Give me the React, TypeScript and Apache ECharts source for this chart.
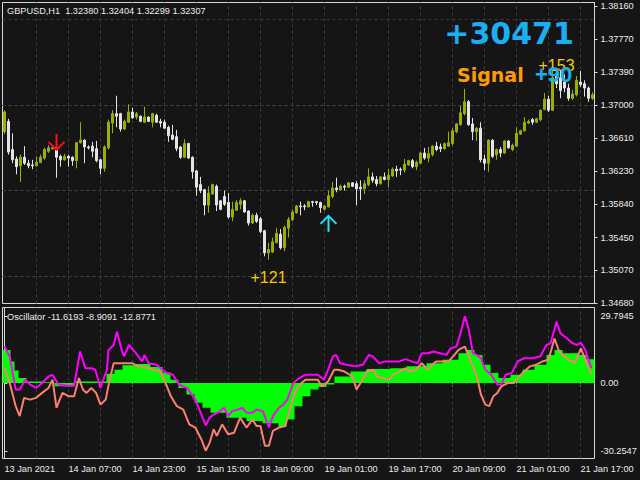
import React, { useEffect, useRef } from 'react';
import * as echarts from 'echarts';

// ---------- price pane (H1 candles, bar 0 .. 147) ----------
const opens = [
  1.3669, 1.3681, 1.3648, 1.3637, 1.3629, 1.3639, 1.3632, 1.3630, 1.3629, 1.3633,
  1.3638, 1.3646, 1.3649, 1.3650, 1.3640, 1.3636, 1.3640, 1.3639, 1.3635, 1.3656,
  1.3659, 1.3651, 1.3652, 1.3649, 1.3636, 1.3626, 1.3650, 1.3679, 1.3690, 1.3690,
  1.3672, 1.3680, 1.3692, 1.3686, 1.3687, 1.3680, 1.3686, 1.3680, 1.3688, 1.3681,
  1.3680, 1.3674, 1.3665, 1.3663, 1.3651, 1.3639, 1.3655, 1.3639, 1.3623, 1.3607,
  1.3601, 1.3583, 1.3596, 1.3605, 1.3588, 1.3593, 1.3586, 1.3569, 1.3577, 1.3584,
  1.3588, 1.3576, 1.3562, 1.3571, 1.3567, 1.3553, 1.3527, 1.3528, 1.3539, 1.3549,
  1.3533, 1.3556, 1.3566, 1.3574, 1.3582, 1.3582, 1.3581, 1.3587, 1.3587, 1.3586,
  1.3578, 1.3581, 1.3593, 1.3603, 1.3601, 1.3605, 1.3604, 1.3609, 1.3608, 1.3604,
  1.3602, 1.3607, 1.3616, 1.3613, 1.3608, 1.3616, 1.3613, 1.3617, 1.3625, 1.3625,
  1.3624, 1.3630, 1.3635, 1.3628, 1.3632, 1.3644, 1.3638, 1.3642, 1.3652, 1.3651,
  1.3649, 1.3652, 1.3655, 1.3669, 1.3677, 1.3690, 1.3704, 1.3678, 1.3669, 1.3673,
  1.3637, 1.3632, 1.3659, 1.3642, 1.3648, 1.3644, 1.3658, 1.3648, 1.3652, 1.3666,
  1.3670, 1.3679, 1.3683, 1.3680, 1.3683, 1.3695, 1.3707, 1.3694, 1.3734, 1.3732,
  1.3727, 1.3720, 1.3708, 1.3712, 1.3727, 1.3725, 1.3720, 1.3708,
];
const closes = [
  1.3692, 1.3645, 1.3636, 1.3628, 1.3639, 1.3632, 1.3629, 1.3629, 1.3633, 1.3639,
  1.3648, 1.3650, 1.3650, 1.3639, 1.3636, 1.3640, 1.3638, 1.3635, 1.3656, 1.3659,
  1.3651, 1.3650, 1.3646, 1.3635, 1.3626, 1.3651, 1.3680, 1.3690, 1.3687, 1.3672,
  1.3681, 1.3692, 1.3685, 1.3690, 1.3681, 1.3686, 1.3681, 1.3690, 1.3680, 1.3679,
  1.3673, 1.3664, 1.3660, 1.3649, 1.3639, 1.3655, 1.3638, 1.3622, 1.3604, 1.3600,
  1.3583, 1.3597, 1.3607, 1.3583, 1.3578, 1.3584, 1.3569, 1.3578, 1.3586, 1.3588,
  1.3575, 1.3562, 1.3571, 1.3564, 1.3552, 1.3527, 1.3531, 1.3540, 1.3550, 1.3533,
  1.3557, 1.3566, 1.3575, 1.3582, 1.3581, 1.3581, 1.3587, 1.3586, 1.3586, 1.3580,
  1.3582, 1.3594, 1.3603, 1.3601, 1.3605, 1.3604, 1.3609, 1.3605, 1.3602, 1.3602,
  1.3608, 1.3616, 1.3612, 1.3608, 1.3616, 1.3613, 1.3618, 1.3625, 1.3623, 1.3624,
  1.3631, 1.3635, 1.3628, 1.3633, 1.3644, 1.3638, 1.3643, 1.3652, 1.3648, 1.3649,
  1.3655, 1.3656, 1.3670, 1.3678, 1.3691, 1.3704, 1.3677, 1.3669, 1.3673, 1.3636,
  1.3632, 1.3659, 1.3640, 1.3648, 1.3644, 1.3658, 1.3650, 1.3653, 1.3667, 1.3670,
  1.3680, 1.3681, 1.3680, 1.3684, 1.3694, 1.3707, 1.3694, 1.3732, 1.3725, 1.3717,
  1.3720, 1.3708, 1.3713, 1.3729, 1.3724, 1.3720, 1.3708, 1.3712,
];
const highs = [
  1.3694, 1.3684, 1.3667, 1.3640, 1.3642, 1.3652, 1.3636, 1.3636, 1.3640, 1.3642,
  1.3650, 1.3653, 1.3652, 1.3652, 1.3642, 1.3643, 1.3642, 1.3640, 1.3657, 1.3680,
  1.3660, 1.3653, 1.3657, 1.3658, 1.3637, 1.3653, 1.3683, 1.3694, 1.3711, 1.3691,
  1.3683, 1.3701, 1.3697, 1.3692, 1.3688, 1.3698, 1.3687, 1.3691, 1.3690, 1.3684,
  1.3683, 1.3676, 1.3677, 1.3671, 1.3652, 1.3660, 1.3656, 1.3640, 1.3624, 1.3616,
  1.3602, 1.3605, 1.3608, 1.3607, 1.3589, 1.3600, 1.3597, 1.3587, 1.3589, 1.3591,
  1.3589, 1.3577, 1.3573, 1.3574, 1.3569, 1.3554, 1.3539, 1.3545, 1.3556, 1.3555,
  1.3559, 1.3569, 1.3578, 1.3583, 1.3587, 1.3584, 1.3588, 1.3588, 1.3588, 1.3587,
  1.3583, 1.3600, 1.3610, 1.3615, 1.3607, 1.3607, 1.3610, 1.3610, 1.3611, 1.3612,
  1.3612, 1.3626, 1.3621, 1.3617, 1.3617, 1.3621, 1.3625, 1.3627, 1.3629, 1.3627,
  1.3637, 1.3636, 1.3637, 1.3635, 1.3645, 1.3650, 1.3651, 1.3653, 1.3657, 1.3655,
  1.3656, 1.3669, 1.3673, 1.3679, 1.3699, 1.3719, 1.3706, 1.3685, 1.3674, 1.3680,
  1.3642, 1.3660, 1.3660, 1.3649, 1.3651, 1.3659, 1.3659, 1.3655, 1.3674, 1.3671,
  1.3686, 1.3683, 1.3685, 1.3685, 1.3695, 1.3714, 1.3711, 1.3741, 1.3742, 1.3741,
  1.3736, 1.3725, 1.3718, 1.3734, 1.3740, 1.3729, 1.3722, 1.3715,
];
const lows = [
  1.3666, 1.3642, 1.3632, 1.3619, 1.3610, 1.3630, 1.3626, 1.3625, 1.3628, 1.3632,
  1.3636, 1.3644, 1.3648, 1.3615, 1.3628, 1.3635, 1.3628, 1.3629, 1.3626, 1.3655,
  1.3632, 1.3648, 1.3639, 1.3633, 1.3619, 1.3622, 1.3648, 1.3667, 1.3674, 1.3669,
  1.3671, 1.3679, 1.3684, 1.3683, 1.3680, 1.3679, 1.3680, 1.3674, 1.3679, 1.3674,
  1.3672, 1.3657, 1.3659, 1.3646, 1.3637, 1.3638, 1.3637, 1.3614, 1.3594, 1.3597,
  1.3571, 1.3574, 1.3595, 1.3576, 1.3577, 1.3582, 1.3567, 1.3564, 1.3576, 1.3578,
  1.3574, 1.3559, 1.3561, 1.3562, 1.3550, 1.3523, 1.3519, 1.3527, 1.3538, 1.3531,
  1.3529, 1.3545, 1.3564, 1.3573, 1.3571, 1.3577, 1.3580, 1.3581, 1.3583, 1.3574,
  1.3577, 1.3580, 1.3591, 1.3598, 1.3600, 1.3600, 1.3603, 1.3604, 1.3583, 1.3589,
  1.3596, 1.3605, 1.3609, 1.3605, 1.3607, 1.3612, 1.3604, 1.3616, 1.3616, 1.3618,
  1.3621, 1.3629, 1.3626, 1.3624, 1.3631, 1.3636, 1.3633, 1.3640, 1.3646, 1.3645,
  1.3648, 1.3651, 1.3653, 1.3667, 1.3676, 1.3688, 1.3676, 1.3659, 1.3658, 1.3633,
  1.3624, 1.3622, 1.3638, 1.3636, 1.3639, 1.3643, 1.3649, 1.3646, 1.3651, 1.3665,
  1.3669, 1.3678, 1.3677, 1.3679, 1.3681, 1.3694, 1.3692, 1.3693, 1.3720, 1.3708,
  1.3715, 1.3705, 1.3706, 1.3710, 1.3721, 1.3710, 1.3704, 1.3706,
];

const priceTicks = [1.3816, 1.3777, 1.3739, 1.37, 1.3661, 1.3623, 1.3584, 1.3545, 1.3507, 1.3468];
const xTickLabels = [
  '13 Jan 2021', '14 Jan 07:00', '14 Jan 23:00', '15 Jan 15:00', '18 Jan 09:00',
  '19 Jan 01:00', '19 Jan 17:00', '20 Jan 09:00', '21 Jan 01:00', '21 Jan 17:00',
];

// signals: [bar index, price]
const sellArrows = [[13, 1.3657]];
const buyArrows = [[81, 1.3561]];
const profitPoints = [[66, 1.3498], [138, 1.3746]];
const profitTexts = ['+121', '+153'];

const headerText = 'GBPUSD,H1  1.32380 1.32404 1.32299 1.32307';
const oscTitle = 'Oscillator -11.6193 -8.9091 -12.8771';
const totalText = '+30471';
const signalText = 'Signal';
const signalValue = '+90';

// ---------- oscillator pane: [bar index, value] ----------
const oscTicks = [29.7945, 0, -30.2547];
const histogram = [
  [-0.5, 14.7], [1.5, 9.6], [2.5, 5.6], [3.5, 2.2], [5.5, 0.7], [9.5, 0.3], [12.5, -1.5],
  [17.5, 0.7], [25.5, 4.1], [27.5, 5.9], [29.5, 7.9], [32.5, 8.4], [36.5, 7.1], [39.5, 4.7],
  [41.5, 1.5], [43.5, -2.2], [45.5, -5.1], [47.5, -8.8], [49.5, -11.0], [51.5, -13.2],
  [55.5, -15.4], [60.5, -16.9], [64.5, -17.9], [68.5, -19.4], [70.5, -16.2], [72.5, -10.3],
  [74.5, -5.9], [76.5, -2.9], [78.5, -1.8], [80.5, -0.7], [82.5, 2.9], [86.5, 5.1],
  [90.5, 6.2], [96.5, 6.6], [100.5, 7.4], [105.5, 8.8], [109.5, 10.3], [113.5, 13.2],
  [115.5, 14.7], [117.5, 12.5], [119.5, 8.1], [121.5, 4.4], [123.5, 2.2], [126.5, 3.7],
  [129.5, 5.9], [132.5, 8.1], [135.5, 12.5], [137.5, 14.7], [139.5, 13.2], [143.5, 12.5],
  [145.5, 10.6], [147.5, 10.6],
];
const magentaLine = [
  [0, 16.2], [1.3, 11.8], [2.8, -2.9], [3.8, -2.9], [5.2, 1.5], [6.4, -0.7], [7.9, -2.2],
  [9.4, 0], [11, 2.9], [12, 3.7], [13.5, -0.7], [16.1, -1.2], [17.4, -1.2], [18.9, 14],
  [20.2, 6.6], [21.7, 6.6], [22.7, 5.9], [24, -2.2], [25.6, 5.9], [26, 14.7], [27.3, 16.9],
  [28.1, 22.8], [29.3, 14.7], [29.9, 11.8], [31.1, 16.9], [32.9, 13.2], [34.4, 9.6],
  [35, 12.5], [36, 8.8], [38, 8.1], [39.5, 5.9], [40.6, 4.4], [42.1, 3.7], [43.6, -0.7],
  [45.7, -2.2], [47.7, -7.4], [49.2, -14], [50.3, -18.8], [51.3, -15.4], [52.3, -14],
  [53.3, -13.2], [54.9, -11], [55.9, -14.7], [56.9, -12.5], [58.4, -11.8], [59.4, -11],
  [60.5, -13.2], [62, -13.2], [63, -11.8], [64.6, -12.5], [66.1, -19.8], [67.1, -14.7],
  [68.6, -11], [69.7, -9.6], [70.7, -7.4], [72.2, 0], [73.7, 2.2], [75.3, 3.7], [76.8, 3.7],
  [78.3, 3.7], [79.9, 1.5], [80.9, 5.9], [82.1, 11.8], [82.9, 12.5], [83.9, 8.8], [85.5, 8.1],
  [87.5, 7.4], [89.6, 8.1], [91.1, 12.5], [92.1, 11.8], [93.6, 8.8], [95.2, 9.6], [97.2, 9.6],
  [98.7, 9.6], [100.3, 10.6], [101.8, 9.6], [103.3, 8.8], [104.3, 13.2], [105.9, 13.2],
  [107.2, 14], [108.9, 13.2], [110.5, 12.5], [111.5, 15.4], [113, 16.2], [114, 22.1],
  [115.1, 29.7], [116.1, 23.5], [117.1, 13.2], [118.1, 12.5], [119.1, 11], [120.2, 5.9],
  [121.7, 3.7], [123.2, -0.7], [124.2, -0.7], [125.3, 3.7], [126.8, 4.4], [128.3, 9.6],
  [129.9, 11], [131.9, 11], [133.9, 11.8], [135.5, 16.9], [136.5, 17.6], [138, 27.2],
  [139, 22.1], [140.6, 19.8], [142.1, 17.6], [143.1, 16.9], [144.1, 17.9], [145.2, 14.7],
  [146.7, 6.6],
];
const salmonLine = [
  [0, 6.6], [1.3, 0], [2.8, -10.3], [3.8, -14.7], [4.9, -6.6], [6.4, -7.4], [7.9, -6.6],
  [9.4, -4.4], [11, -2.2], [12, 1.5], [13, -11], [14.5, -4.4], [16.1, -5.9], [17.4, -5.9],
  [18.6, 2.2], [19.6, -2.9], [20.5, -4.4], [21.7, -2.2], [22.9, -4.4], [24, -9.6],
  [25.3, -7.4], [26.3, 1.5], [27.3, 8.8], [28.8, 8.8], [30.4, 8.8], [31.9, 8.8], [33.4, 7.4],
  [34.4, 7.4], [36, 6.6], [37, 5.9], [39, 5.1], [40.1, 0.7], [41.6, -5.9], [43.1, -10.3],
  [44.7, -11.8], [46.2, -18.4], [47.7, -19.8], [49.2, -25], [50.3, -30.1], [51.3, -26.5],
  [52.3, -20.6], [53.1, -23.5], [54.4, -18.4], [55.9, -22.8], [57.4, -22.1], [58.9, -15.4],
  [60.5, -19.8], [62, -16.2], [63, -19.1], [64, -19.1], [65.1, -27.9], [66.1, -27.9],
  [67.1, -21.3], [68.6, -19.8], [70.2, -19.1], [71.2, -12.5], [72.7, -3.7], [74.2, 0],
  [75.3, 1.5], [76.8, 1.5], [78.3, 1.5], [79.3, -1.5], [80.9, 0.7], [82.4, 5.9], [83.4, 5.9],
  [85, 5.1], [87, 2.9], [88, -2.9], [89, 0], [90.6, 5.1], [92.1, 5.9], [93.1, 2.9],
  [94.7, 2.2], [96.2, 1.5], [97.2, 3.7], [98.7, 5.1], [100.3, 6.6], [101.3, 5.1],
  [102.8, 5.9], [104.3, 8.8], [105.9, 5.9], [106.9, 8.1], [107.9, 9.6], [109.4, 9.6],
  [111, 9.6], [112.5, 12.5], [113.5, 14.7], [115.1, 16.2], [116.6, 9.6], [118.1, 2.9],
  [119.1, -5.1], [120.2, -9.6], [121.2, -10.3], [122.2, -5.9], [123.2, -4.4], [124.2, -1.5],
  [125.8, 0], [127.3, 0], [128.3, 2.2], [129.9, 5.1], [131.4, 7.4], [132.9, 8.1],
  [134.5, 9.6], [136, 10.3], [137.5, 19.8], [138.5, 14.7], [139.5, 12.5], [141.1, 10.3],
  [142.6, 8.8], [144.1, 15.4], [145.2, 10.3], [146.7, 3.7],
];

// ---------- styling ----------
const BG = '#151515';
const FRAME = '#d8d8d8';
const GRID = '#3d3d3d';
const TXT = '#ececec';
const BULL = '#9cae00';
const BEAR = '#e4e4e4';
const BLUE = '#19aff2';
const ORANGE = '#ff9c00';
const GOLD = '#f7c800';
const FONT = '"Liberation Sans", Arial, sans-serif';

function buildOption() {
  const cats = opens.map((_, i) => String(i));
  const candleData = opens.map((o, i) => [o, closes[i], lows[i], highs[i]]);
  const gridBars = cats.map((_, i) => i).filter((i) => i > 0 && i % 8 === 0);
  const labelEvery = (i: number) => i % 16 === 0;
  const gridLine = { color: GRID, type: [3, 3] as any, width: 1 };

  const arrowSeries = (pts: number[][], color: string, dir: number) => ({
    type: 'custom',
    xAxisIndex: 0,
    yAxisIndex: 0,
    z: 6,
    silent: true,
    data: pts,
    renderItem: (_params: any, api: any) => {
      const p = api.coord([api.value(0), api.value(1)]);
      const cx = p[0];
      const cy = p[1];
      const s = 8;
      const tip = cy + dir * s;
      const tail = cy - dir * s;
      return {
        type: 'group',
        children: [
          { type: 'line', shape: { x1: cx, y1: tail, x2: cx, y2: tip }, style: { stroke: color, lineWidth: 2 } },
          {
            type: 'polyline',
            shape: { points: [[cx - s, cy], [cx, tip], [cx + s, cy]] },
            style: { stroke: color, lineWidth: 2, fill: null },
          },
        ],
      };
    },
  });

  return {
    animation: false,
    backgroundColor: BG,
    grid: [
      { left: 2.5, top: 2.5, width: 592, height: 301, show: true, borderColor: FRAME, borderWidth: 1, backgroundColor: 'transparent' },
      { left: 2.5, top: 307.5, width: 592, height: 151, show: true, borderColor: FRAME, borderWidth: 1, backgroundColor: 'transparent' },
    ],
    xAxis: [
      {
        type: 'category', gridIndex: 0, data: cats, boundaryGap: true,
        axisLine: { show: false }, axisTick: { show: false }, axisLabel: { show: false }, splitLine: { show: false },
      },
      {
        type: 'category', gridIndex: 1, data: cats, boundaryGap: true, position: 'bottom',
        axisLine: { show: false },
        axisTick: { show: true, interval: labelEvery, alignWithLabel: true, length: 4, lineStyle: { color: FRAME } },
        axisLabel: {
          interval: labelEvery,
          formatter: (_v: string, idx: number) => xTickLabels[idx / 16] ?? '',
          align: 'left', color: TXT, fontSize: 9.2, fontFamily: FONT, margin: 6,
        },
        splitLine: { show: false },
      },
      { type: 'value', gridIndex: 1, min: -0.5, max: 147.5, show: false },
    ],
    yAxis: [
      {
        type: 'value', gridIndex: 0, position: 'right', min: 1.34678, max: 1.38201, scale: true,
        axisLine: { show: true, lineStyle: { color: FRAME } },
        axisTick: { show: true, customValues: priceTicks, length: 3, lineStyle: { color: FRAME } },
        axisLabel: { customValues: priceTicks, formatter: (v: number) => v.toFixed(5), color: TXT, fontSize: 9.2, fontFamily: FONT, margin: 6 },
        splitLine: { show: false },
      },
      {
        type: 'value', gridIndex: 1, position: 'right', min: -33.57, max: 33.57,
        axisLine: { show: true, lineStyle: { color: FRAME } },
        axisTick: { show: true, customValues: oscTicks, length: 3, lineStyle: { color: FRAME } },
        axisLabel: {
          customValues: oscTicks,
          formatter: (v: number) => (v === 0 ? '0.00' : v.toFixed(4)),
          color: TXT, fontSize: 9.2, fontFamily: FONT, margin: 6,
        },
        splitLine: { show: false },
      },
    ],
    series: [
      {
        type: 'candlestick', xAxisIndex: 0, yAxisIndex: 0, z: 3,
        data: candleData, barWidth: 2,
        itemStyle: { color: BULL, color0: BEAR, borderColor: BULL, borderColor0: BEAR, borderWidth: 1 },
        markLine: {
          silent: true, z: 1, symbol: ['none', 'none'], label: { show: false }, lineStyle: gridLine,
          data: [
            ...priceTicks.slice(1, -1).map((v) => ({ yAxis: v })),
            ...gridBars.map((i) => ({ xAxis: i })),
          ],
        },
      },
      arrowSeries(sellArrows, '#ff1010', 1),
      arrowSeries(buyArrows, '#22e3ff', -1),
      {
        type: 'custom', xAxisIndex: 0, yAxisIndex: 0, z: 6, silent: true,
        data: profitPoints,
        renderItem: (params: any, api: any) => {
          const p = api.coord([api.value(0), api.value(1)]);
          return {
            type: 'text', x: p[0], y: p[1],
            style: {
              text: profitTexts[params.dataIndex], fill: GOLD, font: '16px ' + FONT,
              align: 'center', textAlign: 'center', verticalAlign: 'middle', textVerticalAlign: 'middle',
            },
          };
        },
      },
      {
        type: 'line', xAxisIndex: 2, yAxisIndex: 1, z: 2, step: 'end', symbol: 'none',
        data: histogram, lineStyle: { width: 0, opacity: 0 }, areaStyle: { color: '#00ff00', opacity: 1 },
        markLine: {
          silent: true, z: 1, symbol: ['none', 'none'], label: { show: false }, lineStyle: gridLine,
          data: gridBars.map((i) => ({ xAxis: i })),
        },
      },
      {
        type: 'line', xAxisIndex: 2, yAxisIndex: 1, z: 4, symbol: 'none',
        data: salmonLine, lineStyle: { color: '#fa8072', width: 2 },
      },
      {
        type: 'line', xAxisIndex: 2, yAxisIndex: 1, z: 5, symbol: 'none',
        data: magentaLine, lineStyle: { color: '#ff00ff', width: 2 },
      },
    ],
    graphic: [
      {
        type: 'text', x: 7, y: 10.5, z: 100, silent: true,
        style: { text: headerText, fill: TXT, font: '9.2px ' + FONT, verticalAlign: 'middle', textVerticalAlign: 'middle' },
      },
      {
        type: 'text', x: 7, y: 317, z: 100, silent: true,
        style: { text: oscTitle, fill: TXT, font: '9.2px ' + FONT, verticalAlign: 'middle', textVerticalAlign: 'middle' },
      },
      {
        type: 'text', x: 509, y: 33, z: 100, silent: true,
        style: {
          text: totalText, fill: BLUE, font: 'bold 30px "DejaVu Sans"',
          align: 'center', textAlign: 'center', verticalAlign: 'middle', textVerticalAlign: 'middle',
        },
      },
      {
        type: 'text', x: 457, y: 75, z: 100, silent: true,
        style: { text: signalText, fill: ORANGE, font: 'bold 19px "DejaVu Sans"', verticalAlign: 'middle', textVerticalAlign: 'middle' },
      },
      {
        type: 'text', x: 535, y: 74, z: 101, silent: true,
        style: { text: signalValue, fill: BLUE, font: 'bold 22px ' + FONT, verticalAlign: 'middle', textVerticalAlign: 'middle' },
      },
    ],
  };
}

export default function App() {
  const ref = useRef<HTMLDivElement>(null);
  useEffect(() => {
    document.body.style.margin = '0';
    document.body.style.background = BG;
    const chart = echarts.init(ref.current as HTMLDivElement, null, { renderer: 'svg' });
    chart.setOption(buildOption() as any);
    return () => chart.dispose();
  }, []);
  return <div ref={ref} style={{ width: 640, height: 480 }} />;
}
